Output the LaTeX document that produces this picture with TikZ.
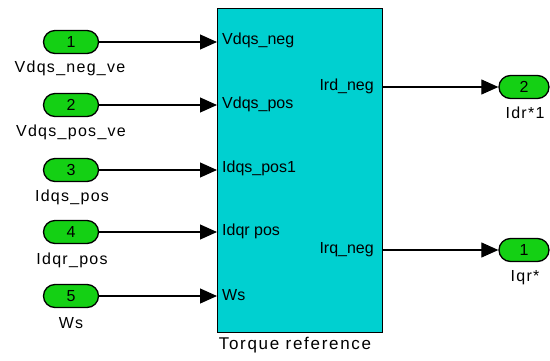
\documentclass[tikz,border=0pt]{standalone}
\usepackage{fontspec}
\setmainfont{Liberation Sans}
\newfontfamily\spacedfont[LetterSpace=8]{Liberation Sans}
\newfontfamily\widefont[LetterSpace=10]{Liberation Sans}
\usetikzlibrary{arrows.meta}
\definecolor{blockcyan}{RGB}{0,208,208}
\definecolor{portgreen}{RGB}{20,208,20}
\begin{document}
\begin{tikzpicture}[x=1pt,y=-1pt,
  port/.style={draw=black,line width=1.3pt,fill=portgreen,rounded corners=11.5pt,minimum width=55pt,minimum height=23pt,inner sep=0pt,font=\fontsize{16}{16}\selectfont},
  oport/.style={port,minimum width=50pt},
  lab/.style={font=\spacedfont\fontsize{16}{17}\selectfont,inner sep=0pt},
  plab/.style={font=\fontsize{16}{17}\selectfont,inner sep=0pt},
  sig/.style={line width=1.1pt,-{Triangle[length=17pt,width=15pt]}}]
\useasboundingbox (0,0) rectangle (550,360);
% block
\node[draw=black,line width=1.3pt,fill=blockcyan,minimum width=165pt,minimum height=324pt,inner sep=0pt,anchor=north west] (blk) at (217,8) {};
\node[font=\widefont\fontsize{17}{18}\selectfont,inner sep=0pt] (blkname) at (295,345) {Torque reference};
% block port labels
\node[plab,anchor=west] (pi1) at (222,40) {Vdqs\_neg};
\node[plab,anchor=west] (pi2) at (222,104) {Vdqs\_pos};
\node[plab,anchor=west] (pi3) at (222,168) {Idqs\_pos1};
\node[plab,anchor=west] (pi4) at (222,231) {Idqr pos};
\node[plab,anchor=west] (pi5) at (222,295) {Ws};
\node[plab,anchor=east] (po1) at (374,86) {Ird\_neg};
\node[plab,anchor=east] (po2) at (374,250) {Irq\_neg};
% input ports
\node[port] (in1) at (71,42) {1};
\node[port] (in2) at (71,105) {2};
\node[port] (in3) at (71,170) {3};
\node[port] (in4) at (71,232) {4};
\node[port] (in5) at (71,296) {5};
\node[lab] (l1) at (70,68) {Vdqs\_neg\_ve};
\node[lab] (l2) at (71,132) {Vdqs\_pos\_ve};
\node[lab] (l3) at (72,197) {Idqs\_pos};
\node[lab] (l4) at (72,260) {Idqr\_pos};
\node[lab] (l5) at (71,323) {Ws};
% output ports
\node[oport] (out2) at (524,87) {2};
\node[oport] (out1) at (524,250) {1};
\node[lab] (lo2) at (525,113) {Idr*1};
\node[lab] (lo1) at (525,278) {Iqr*};
% connectors
\draw[sig] (in1.east) -- (in1.east -| blk.west);
\draw[sig] (in2.east) -- (in2.east -| blk.west);
\draw[sig] (in3.east) -- (in3.east -| blk.west);
\draw[sig] (in4.east) -- (in4.east -| blk.west);
\draw[sig] (in5.east) -- (in5.east -| blk.west);
\draw[sig] (out2.west -| blk.east) -- (out2.west);
\draw[sig] (out1.west -| blk.east) -- (out1.west);
\end{tikzpicture}
\end{document}
